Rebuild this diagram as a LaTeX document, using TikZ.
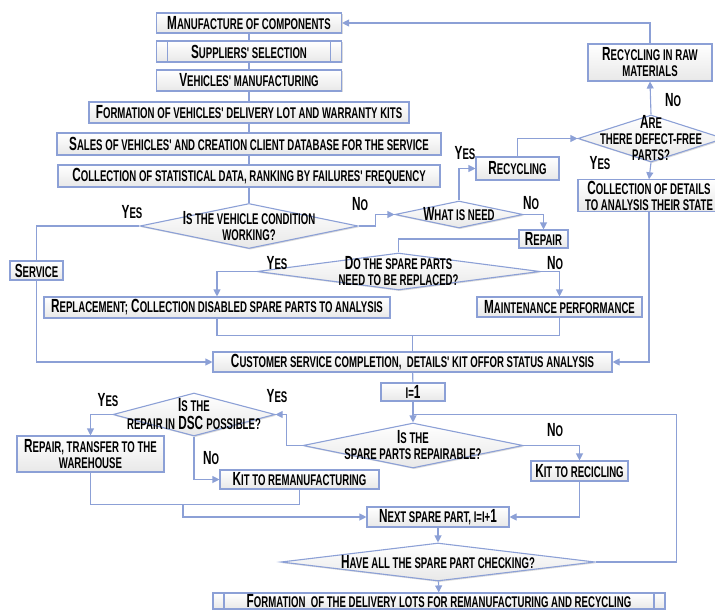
\documentclass[tikz,border=0pt]{standalone}
\usepackage{fontspec}
\usepackage{tikz}
\usetikzlibrary{shapes.geometric}
\usetikzlibrary{arrows.meta}
\usetikzlibrary{shadows}

\newfontfamily\agency{Liberation Sans}[FakeStretch=0.62]
\newcommand{\smc}[1]{{\fontsize{15.5}{16}\selectfont\MakeUppercase{#1}}}
\definecolor{flowline}{RGB}{140,160,214}

\begin{document}
\begin{tikzpicture}[x=1pt, y=-1pt, >={Triangle[width=7pt,length=7pt]},
	every node/.style={font=\agency\bfseries\fontsize{19}{16}\selectfont, align=center},
	link/.style={draw=flowline, line width=1.1pt},
	block/.style={draw=flowline, line width=1.1pt, top color=white, bottom color=black!9,
		inner sep=1pt, minimum height=20pt,
		drop shadow={shadow xshift=1.2pt, shadow yshift=-1.2pt, fill=black!35, opacity=0.4}},
	proc/.style={block, path picture={
		\draw[flowline, line width=1.1pt]
		([xshift=11pt]path picture bounding box.north west) -- ([xshift=11pt]path picture bounding box.south west)
		([xshift=-11pt]path picture bounding box.north east) -- ([xshift=-11pt]path picture bounding box.south east);}},
	decide/.style={block, diamond, inner sep=0pt},
	answer/.style={inner sep=0pt}]

\useasboundingbox (0,0) rectangle (715,610);

%production and sales
\node[block, minimum width=185pt] (manuf) at (249,23) {M\smc{anufacture of components}};
\node[proc, minimum width=185pt, minimum height=21pt] (suppl) at (249,51.5) {S\smc{uppliers' selection}};
\node[block, minimum width=185pt, minimum height=21pt] (vehic) at (249,80.5) {V\smc{ehicles' manufacturing}};
\node[block, minimum width=320pt, minimum height=21pt] (lot) at (249,112.5) {F\smc{ormation of vehicles' delivery lot and warranty kits}};
\node[block, minimum width=384pt, minimum height=22pt] (sales) at (249,144) {S\smc{ales of vehicles' and creation client database for the service}};
\node[block, minimum width=382pt, minimum height=22pt] (stat) at (249,176) {C\smc{ollection of statistical data, ranking by failures' frequency}};

%service branch
\node[decide, minimum width=218pt, minimum height=45pt,
	label={[answer]center:{I\smc{s the vehicle condition}\\\smc{working?}}}] (cond) at (249,226) {};
\node[block, minimum width=53pt, minimum height=19pt] (serv) at (36.5,270.5) {S\smc{ervice}};
\node[decide, minimum width=128pt, minimum height=27pt,
	label={[answer]center:{W\smc{hat is need}}}] (need) at (459,214.5) {};
\node[block, minimum width=83pt, minimum height=23pt] (recyc) at (517.5,168.5) {R\smc{ecycling}};
\node[decide, minimum width=146pt, minimum height=47pt,
	label={[answer]center:{A\smc{re}\\\smc{there defect-free}\\\smc{parts?}}}] (defect) at (651,138.5) {};
\node[block, minimum width=124pt, minimum height=37pt] (raw) at (650,62.5) {R\smc{ecycling in raw}\\\smc{materials}};
\node[block, minimum width=142pt, minimum height=31pt] (detail) at (649,195.5) {C\smc{ollection of details}\\\smc{to analysis their state}};
\node[block, minimum width=49pt, minimum height=18pt] (repair) at (543.5,239) {R\smc{epair}};
\node[decide, minimum width=283pt, minimum height=37pt,
	label={[answer]center:{D\smc{o the spare parts}\\\smc{need to be replaced?}}}] (spare) at (398.5,271.5) {};
\node[block, minimum width=346pt, minimum height=21pt] (repl) at (217,307.5) {R\smc{eplacement;} C\smc{ollection disabled spare parts to analysis}};
\node[block, minimum width=165pt, minimum height=20pt] (maint) at (559.5,307) {M\smc{aintenance performance}};
\node[block, minimum width=399pt, minimum height=20pt] (cust) at (412.5,362) {C\smc{ustomer service completion,\ \ details' kit offor status analysis}};

%spare parts loop
\node[block, minimum width=64pt, minimum height=18pt] (ione) at (413,392) {\smc{i=}1};
\node[decide, minimum width=220pt, minimum height=45pt,
	label={[answer]center:{I\smc{s the}\\\smc{spare parts repairable?}}}] (fix) at (413,445.5) {};
\node[decide, minimum width=162pt, minimum height=43pt,
	label={[answer]center:{I\smc{s the}\\[2pt]\smc{repair in} DSC \smc{possible?}}}] (dsc) at (194,414.5) {};
\node[block, minimum width=147pt, minimum height=36pt] (rtw) at (90.5,454) {R\smc{epair, transfer to the}\\\smc{warehouse}};
\node[block, minimum width=159pt, minimum height=19pt] (reman) at (299.5,479.5) {K\smc{it to remanufacturing}};
\node[block, minimum width=97pt, minimum height=20pt] (recic) at (579.5,471) {K\smc{it to recicling}};
\node[block, minimum width=142pt, minimum height=20pt] (next) at (438,517) {N\smc{ext spare part, i=i+}1};
\node[decide, minimum width=314pt, minimum height=38pt,
	label={[answer]center:{H\smc{ave all the spare part checking?}}}] (have) at (438,562) {};
\node[proc, minimum width=452pt, minimum height=16pt] (lots) at (439,601) {F\smc{ormation\ \ of the delivery lots for remanufacturing and recycling}};

%yes / no
\node[answer] (no-raw) at (673,100) {N\smc{o}};
\node[answer] (yes-detail) at (600,163) {Y\smc{es}};
\node[answer] (yes-recyc) at (465,153) {Y\smc{es}};
\node[answer] (no-repair) at (531,203) {N\smc{o}};
\node[answer] (yes-serv) at (132,212) {Y\smc{es}};
\node[answer] (no-need) at (360,204) {N\smc{o}};
\node[answer] (yes-repl) at (277,263) {Y\smc{es}};
\node[answer] (no-maint) at (555,263) {N\smc{o}};
\node[answer] (yes-dsc) at (277,396) {Y\smc{es}};
\node[answer] (no-recic) at (555,430) {N\smc{o}};
\node[answer] (yes-rtw) at (108,400) {Y\smc{es}};
\node[answer] (no-reman) at (211,458) {N\smc{o}};

%main column
\draw[link] (manuf) -- (suppl);
\draw[link] (suppl) -- (vehic);
\draw[link] (vehic) -- (lot);
\draw[link] (lot) -- (sales);
\draw[link] (sales) -- (stat);
\draw[link] (stat) -- (cond);

%vehicle condition
\draw[link] (cond.west) -| (serv.north);
\draw[link, ->] (serv.south) |- (cust.west);
\draw[link, ->] (cond.east) -- ++(17,0) |- (need.west);
\draw[link, ->] (need.north) |- (recyc.west);
\draw[link, ->] (recyc.north) |- (defect.west);
\draw[link, ->] (defect.north) -- (raw.south);
\draw[link, ->] (raw.north) |- (manuf.east);
\draw[link, ->] (defect.south) -- (detail.north);
\draw[link, ->] (detail.south) |- (cust.east);
\draw[link, ->] (need.east) -| (repair.north);
\draw[link] (repair.west) -| (spare.north);
\draw[link, ->] (spare.west) -| (repl.north);
\draw[link, ->] (spare.east) -| (maint.north);
\draw[link] (repl.south) -- ++(0,17) coordinate (join1) -| (maint.south);
\draw[link] (join1 -| cust.north) -- (cust.north);

%check every spare part
\draw[link] (cust) -- (ione);
\draw[link, ->] (ione) -- (fix);
\draw[link, ->] (fix.west) -- ++(-16,0) |- (dsc.east);
\draw[link, ->] (dsc.west) -| (rtw.north);
\draw[link, ->] (dsc.south) |- (reman.west);
\draw[link, ->] (fix.east) -| (recic.north);
\draw[link, ->] (recic.south) |- (next.east);
\draw[link] (rtw.south) -- ++(0,32) coordinate (join2) -| (reman.south);
\draw[link, ->] ([xshift=92.5pt]join2) |- (next.west);
\draw[link, ->] (next) -- (have);
\draw[link] (have.east) -- ++(81,0) |- ([yshift=8pt]fix.north);
\draw[link, ->] (have) -- (lots);
\end{tikzpicture}
\end{document}
